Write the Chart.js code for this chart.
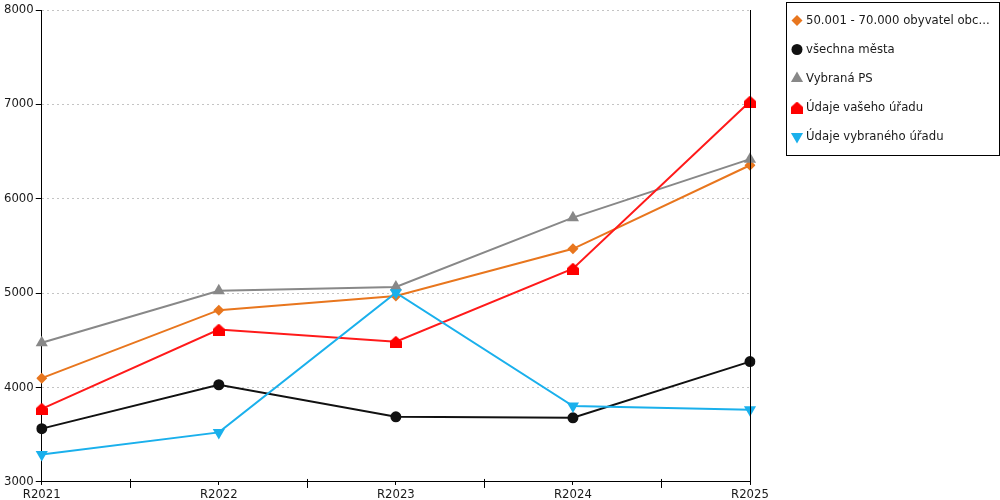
<!DOCTYPE html>
<html>
<head>
<meta charset="utf-8">
<script src="https://cdn.jsdelivr.net/npm/chart.js@4.4.1/dist/chart.umd.min.js"></script>
<style>
  html, body { margin: 0; padding: 0; background: #fff; }
  #wrap { width: 1000px; height: 500px; }
</style>
</head>
<body>
<div id="wrap"><canvas id="linechart"></canvas></div>
<script>
// data
const years = ['R2021', 'R2022', 'R2023', 'R2024', 'R2025'];
const obce50k = [4100, 4820, 4970, 5470, 6355];
const vsechnaMesta = [3565, 4030, 3690, 3680, 4275];
const vybranaPS = [4475, 5025, 5065, 5800, 6420];
const vasUrad = [3775, 4615, 4485, 5260, 7030];
const vybranyUrad = [3290, 3525, 5005, 3805, 3765];
const yTicks = [3000, 4000, 5000, 6000, 7000, 8000];

const font = { family: 'DejaVu Sans', size: 11.7 };

// red "house" marker
function housePoint(color) {
    const c = document.createElement('canvas');
    c.width = 12; c.height = 12;
    const g = c.getContext('2d');
    g.fillStyle = color;
    g.beginPath();
    g.moveTo(6, 0);
    g.lineTo(12, 5.5);
    g.lineTo(12, 12);
    g.lineTo(0, 12);
    g.lineTo(0, 5.5);
    g.closePath();
    g.fill();
    return c;
}

function series(label, data, color, style, radius, rotation, order) {
    return {
        label: label,
        data: data,
        borderColor: color,
        backgroundColor: color,
        pointBackgroundColor: color,
        pointBorderColor: color,
        pointBorderWidth: 0,
        borderWidth: 2,
        pointStyle: style,
        pointRadius: radius,
        pointHoverRadius: radius,
        pointRotation: rotation,
        tension: 0,
        order: order
    };
}

// axis frame: right line + minor ticks between categories
const framePlugin = {
    id: 'frame',
    afterDatasetsDraw(chart) {
        const { ctx, chartArea } = chart;
        const x = chart.scales.x;
        ctx.save();
        ctx.strokeStyle = '#000';
        ctx.lineWidth = 1;
        ctx.beginPath();
        const rx = Math.round(chartArea.right) + 0.5;
        ctx.moveTo(rx, chartArea.top);
        ctx.lineTo(rx, chartArea.bottom);
        for (let i = 0; i < years.length - 1; i++) {
            const mx = Math.round((x.getPixelForValue(i) + x.getPixelForValue(i + 1)) / 2) + 0.5;
            ctx.moveTo(mx, chartArea.bottom - 3);
            ctx.lineTo(mx, chartArea.bottom + 6);
        }
        ctx.stroke();
        ctx.restore();
    }
};

// boxed legend on the right
const legendBox = {
    id: 'legendBox',
    afterDraw(chart) {
        const { ctx } = chart;
        ctx.save();
        ctx.strokeStyle = '#000';
        ctx.lineWidth = 1;
        ctx.strokeRect(786.5, 2.5, 213, 153);
        ctx.font = '11.7px "DejaVu Sans"';
        ctx.textBaseline = 'middle';
        chart.data.datasets.forEach((ds, i) => {
            const y = 20.5 + 29 * i;
            ctx.fillStyle = ds.pointBackgroundColor;
            Chart.helpers.drawPoint(ctx, {
                pointStyle: ds.pointStyle,
                rotation: ds.pointRotation,
                radius: ds.pointRadius,
                borderWidth: 0
            }, 797, y);
            ctx.fillStyle = '#1a1a1a';
            ctx.fillText(ds.label, 806, y);
        });
        ctx.restore();
    }
};

const ctx = document.getElementById('linechart').getContext('2d');
const linechart = new Chart(ctx, {
    type: 'line',
    data: {
        labels: years,
        datasets: [
            series('50.001 - 70.000 obyvatel obc...', obce50k, '#e8761e', 'rectRot', 5.5, 0, 4),
            series('všechna města', vsechnaMesta, '#111111', 'circle', 5.5, 0, 3),
            series('Vybraná PS', vybranaPS, '#888888', 'triangle', 7, 0, 2),
            series('Údaje vašeho úřadu', vasUrad, '#ff1a1a', housePoint('#ff0000'), 6, 0, 1),
            series('Údaje vybraného úřadu', vybranyUrad, '#1ab0ec', 'triangle', 7, 180, 0)
        ]
    },
    options: {
        responsive: true,
        maintainAspectRatio: false,
        animation: false,
        layout: { padding: { top: 10, left: 2, right: 250, bottom: -5 } },
        plugins: {
            legend: { display: false },
            tooltip: { enabled: false }
        },
        scales: {
            x: {
                grid: { drawOnChartArea: false, tickLength: 3, tickColor: '#000' },
                border: { color: '#000', width: 1 },
                ticks: { color: '#1a1a1a', font: font, padding: 3, maxRotation: 0, autoSkip: false }
            },
            y: {
                min: yTicks[0],
                max: yTicks[yTicks.length - 1],
                afterBuildTicks(axis) { axis.ticks = yTicks.map(v => ({ value: v })); },
                grid: { color: '#c4c4c4', lineWidth: 1, tickLength: 6, tickColor: '#000', tickBorderDash: [] },
                border: { color: '#000', width: 1, dash: [2, 3] },
                ticks: { color: '#1a1a1a', font: font, padding: 2, callback: v => String(v) }
            }
        }
    },
    plugins: [framePlugin, legendBox]
});
</script>
</body>
</html>
